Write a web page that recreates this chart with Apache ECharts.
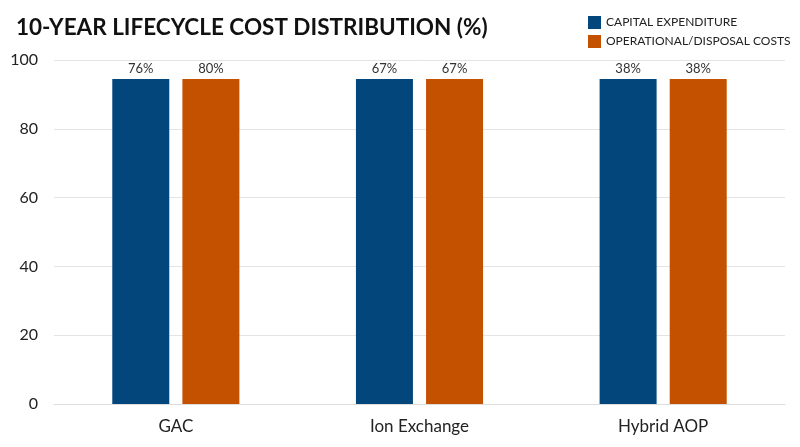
<!DOCTYPE html>
<html>
<head>
<meta charset="utf-8">
<script src="https://cdn.jsdelivr.net/npm/echarts@6/dist/echarts.min.js"></script>
<style>
  html, body { margin: 0; padding: 0; background: #fff; }
  #chart { width: 800px; height: 447px; }
</style>
</head>
<body>
<div id="chart"></div>
<script>
// categories and values
var categories = ['GAC', 'Ion Exchange', 'Hybrid AOP'];
var capexValues = [94.5, 94.5, 94.5];
var opexValues = [94.5, 94.5, 94.5];
var capexLabels = ['76%', '67%', '38%'];
var opexLabels = ['80%', '67%', '38%'];
var yTicks = [0, 20, 40, 60, 80, 100];

var chart = echarts.init(document.getElementById('chart'));

var labelStyle = function (texts) {
    return {
        show: true,
        position: 'top',
        distance: 4,
        color: '#333',
        fontSize: 13,
        fontFamily: 'Lato',
        formatter: function (p) { return texts[p.dataIndex]; }
    };
};

var option = {
    animation: false,
    title: {
        text: '10-YEAR LIFECYCLE COST DISTRIBUTION (%)',
        left: 11,
        top: 11,
        textStyle: {
            fontFamily: 'Lato',
            fontWeight: 'bold',
            fontSize: 22.5,
            color: '#111'
        }
    },
    legend: {
        orient: 'vertical',
        left: 583,
        top: 11,
        itemWidth: 13,
        itemHeight: 13,
        itemGap: 6,
        icon: 'rect',
        textStyle: { fontFamily: 'Lato', fontSize: 12, color: '#222' },
        data: ['CAPITAL EXPENDITURE', 'OPERATIONAL/DISPOSAL COSTS']
    },
    grid: {
        left: 54,
        right: 15,
        top: 60,
        bottom: 43
    },
    xAxis: {
        type: 'category',
        data: categories,
        axisLine: { lineStyle: { color: '#ddd', width: 1 } },
        axisTick: { show: false },
        axisLabel: { color: '#222', fontSize: 17, fontFamily: 'Lato', margin: 14 }
    },
    yAxis: {
        type: 'value',
        min: yTicks[0],
        max: yTicks[yTicks.length - 1],
        interval: yTicks[1] - yTicks[0],
        axisLine: { show: false },
        axisTick: { show: false },
        axisLabel: { color: '#222', fontSize: 16, fontFamily: 'Lato', margin: 16 },
        splitLine: { lineStyle: { color: '#e4e4e4' } }
    },
    series: [
        {
            name: 'CAPITAL EXPENDITURE',
            type: 'bar',
            barWidth: 57,
            barGap: '23%',
            itemStyle: { color: '#03467c' },
            label: labelStyle(capexLabels),
            data: capexValues
        },
        {
            name: 'OPERATIONAL/DISPOSAL COSTS',
            type: 'bar',
            barWidth: 57,
            itemStyle: { color: '#c45100' },
            label: labelStyle(opexLabels),
            data: opexValues
        }
    ]
};

chart.setOption(option);
</script>
</body>
</html>
